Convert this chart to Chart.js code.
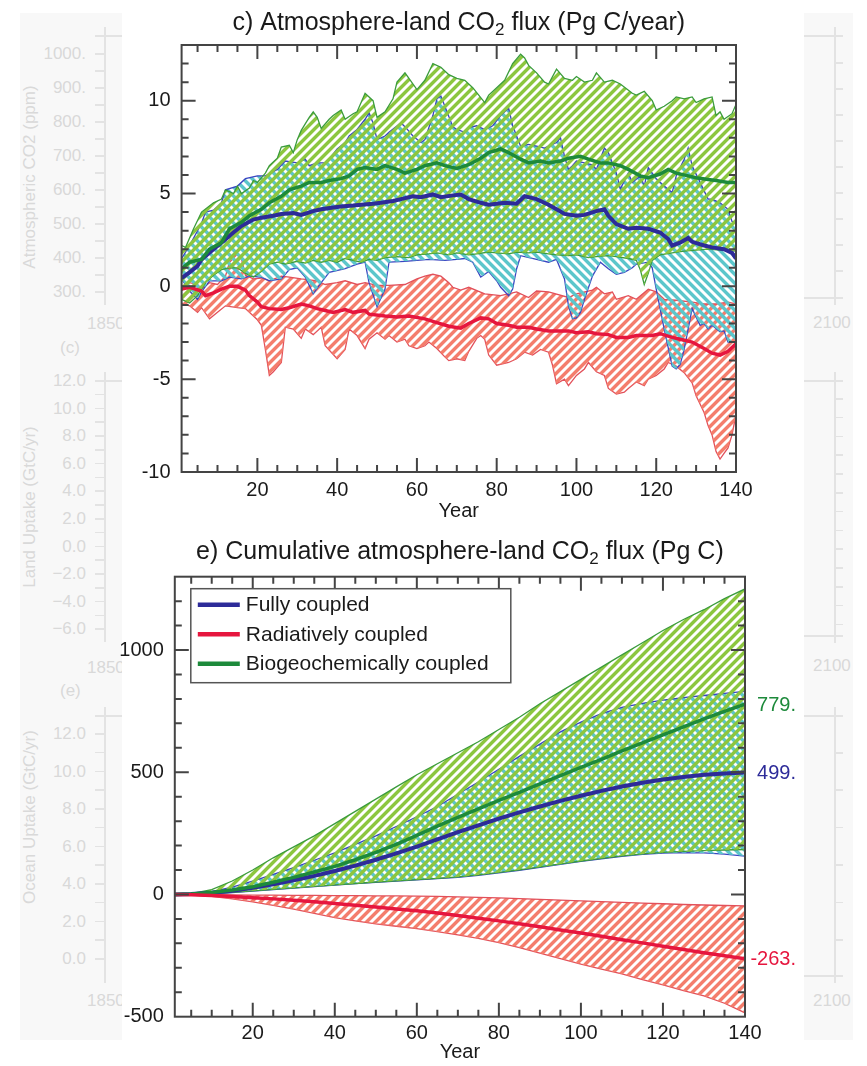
<!DOCTYPE html>
<html>
<head>
<meta charset="utf-8">
<script src="https://cdn.jsdelivr.net/npm/chart.js@4.4.1/dist/chart.umd.min.js"></script>
<style>
  html, body { margin: 0; padding: 0; background: #fff; }
  #page { position: relative; width: 867px; height: 1066px; overflow: hidden; font-family: "Liberation Sans", Arial, sans-serif; }
  .ghost { position: absolute; top: 13px; height: 1027px; background: #f8f8f8; }
  #sheet { position: absolute; left: 122px; top: 0; width: 682px; height: 1066px; background: #fff; }
  .g { position: absolute; color: #d9d9d9; font-size: 17px; line-height: 1; white-space: nowrap; }
  .gl { position: absolute; background: #e3e3e3; }
  canvas { position: absolute; left: 0; }
</style>
</head>
<body>
<div id="page">
  <div class="ghost" style="left:20px;width:102px"></div>
  <div class="ghost" style="left:804px;width:49px"></div>
  <div id="marks"></div>
  <div id="sheet"></div>
  <canvas id="flux" width="867" height="530" style="top:0"></canvas>
  <canvas id="cum" width="867" height="536" style="top:530px"></canvas>
</div>
<script>
// ---------- panel c: annual atmosphere-land flux (Pg C / yr) ----------
const yearTicks = [20, 40, 60, 80, 100, 120, 140];
const fluxTicks = [-10, -5, 0, 5, 10];
const cumTicks = [-500, 0, 500, 1000];

// biogeochemically coupled spread
const greenHiYr = [1,2,4,6,9,11,12,14,15,16,18,19,20,22,23,25,26,28,29,30,31,33,34,35,36,38,39,41,42,44,45,47,49,50,52,54,55,57,58,60,62,64,66,68,70,72,74,77,78,79,82,84,86,87,88,90,92,93,95,97,99,100,102,104,105,107,109,111,114,115,117,119,120,122,124,125,127,129,130,132,134,135,136,137,139,140];
const greenHi = [2.2,2.1,3.1,4.0,4.5,4.7,5.2,5.0,5.4,5.0,5.3,5.7,5.6,6.1,6.5,6.9,7.5,7.6,7.2,7.9,8.4,9.1,9.4,9.1,8.5,9.0,9.2,9.5,9.0,9.3,9.4,10.4,10.0,9.1,9.4,10.1,11.0,11.5,11.2,10.6,11.1,12.0,11.8,11.4,11.2,11.1,10.7,9.9,10.3,10.5,11.1,12.0,12.5,12.3,11.9,11.5,11.0,10.9,11.7,11.2,11.1,11.3,11.0,11.1,11.5,11.0,11.1,10.9,10.4,10.3,10.5,10.0,9.5,9.7,10.0,10.2,10.1,10.2,9.9,10.1,10.2,9.2,9.4,9.0,9.3,9.8];
const greenLoYr = [1,3,5,7,9,11,13,15,17,19,21,23,25,27,30,32,34,36,38,40,42,44,46,48,50,52,55,58,60,63,65,68,70,73,75,78,80,83,85,88,90,93,95,98,100,103,105,108,110,113,115,116,117,118,119,121,124,127,130,133,136,140];
const greenLo = [-0.7,-0.9,-0.5,0.2,0.6,0.9,1.0,1.0,0.7,0.5,0.8,1.2,1.3,1.2,1.35,1.25,1.4,1.3,1.4,1.3,1.5,1.4,1.3,1.45,1.4,1.55,1.6,1.55,1.7,1.75,1.8,1.7,1.8,1.7,1.75,1.85,1.8,1.75,1.85,1.8,1.85,1.75,1.7,1.65,1.7,1.55,1.6,1.65,1.6,1.5,1.4,0.9,0.1,0.7,1.4,1.7,1.8,1.9,1.95,2.0,1.95,1.9];
const greenMeanYr = [1,3,6,8,11,13,16,18,21,23,26,28,31,33,36,38,41,43,45,47,50,52,55,57,60,62,65,67,70,73,76,78,81,83,86,88,91,93,96,98,101,103,106,108,111,113,116,118,121,123,125,128,130,133,135,138,140];
const greenMean = [0.95,1.3,1.45,2.0,2.35,3.1,3.45,3.8,4.15,4.5,4.85,5.2,5.4,5.6,5.6,5.7,5.8,5.95,6.3,6.4,6.3,6.5,6.3,6.1,6.3,6.5,6.65,6.5,6.35,6.55,6.9,7.2,7.4,7.2,6.85,6.65,6.75,6.65,6.75,6.9,7.0,6.85,6.65,6.65,6.5,6.3,5.95,5.85,6.05,6.3,6.1,5.95,5.85,5.75,5.7,5.6,5.6];

// fully coupled spread
const blueHiYr = [1,3,6,7,9,11,12,15,17,20,22,25,27,30,32,33,35,37,38,40,42,43,45,47,48,49,50,52,53,56,57,59,61,62,64,65,66,67,69,70,72,73,75,77,79,81,83,84,86,88,90,92,93,95,96,97,98,99,100,102,104,105,107,108,110,111,113,114,116,117,118,119,120,122,124,125,127,128,129,131,133,134,136,138,139,140];
const blueHi = [1.5,2.2,3.4,4.0,4.1,4.5,5.2,5.4,5.8,5.95,5.95,6.3,6.75,6.65,6.85,6.5,6.65,6.65,6.85,7.4,7.75,8.1,8.45,9.0,9.35,8.8,7.9,8.1,8.3,8.8,8.6,8.1,7.75,7.9,9.2,10.1,10.25,9.7,8.6,8.45,8.3,8.55,8.65,8.45,8.65,9.2,9.6,8.65,7.55,7.65,7.55,7.45,7.55,7.75,8.0,7.0,6.3,6.5,6.75,6.65,6.55,6.3,7.45,7.2,6.1,5.25,6.1,5.6,5.95,5.4,6.4,6.1,5.8,5.4,5.05,5.95,6.85,7.45,6.5,5.6,4.7,4.7,4.5,4.15,3.5,3.45];
const blueLoYr = [1,3,5,6,8,11,13,16,18,21,23,26,28,30,32,34,36,38,42,45,47,48,50,52,53,57,60,63,67,70,72,74,76,78,80,81,83,84,85,86,90,93,95,97,98,99,100,101,102,104,106,108,110,112,114,115,118,119,120,122,124,125,126,127,128,129,131,132,133,134,136,137,138,140];
const blueLo = [0.4,-0.25,-0.7,-0.3,0.3,0.3,0.5,0.4,0.55,0.5,0.3,0.4,0.9,1.0,0.5,-0.4,0.2,0.75,0.95,1.2,1.3,0.2,-1.1,-0.15,1.3,1.35,1.4,1.45,1.4,1.45,1.5,1.3,0.5,0.8,0.3,-0.05,-0.5,-0.15,0.95,1.65,1.45,1.3,1.45,0.4,-1.05,-1.75,-1.7,-1.4,-0.7,0.55,1.3,0.95,0.65,0.75,1.0,1.2,1.3,1.0,-0.15,-2.3,-4.3,-4.45,-4.2,-3.4,-2.3,-1.2,-2.1,-2.0,-2.3,-2.1,-2.45,-2.4,-3.0,-3.0];
const blueMeanYr = [1,3,5,6,9,11,14,16,19,21,24,26,29,31,34,36,39,41,44,46,49,51,54,56,59,61,64,66,69,71,73,76,78,82,85,87,89,90,93,95,97,100,102,105,107,108,110,113,115,118,121,123,124,126,128,129,132,134,137,139,140];
const blueMean = [0.45,0.75,1.1,1.45,2.0,2.35,2.9,3.25,3.6,3.7,3.8,3.9,3.95,3.85,4.05,4.15,4.25,4.3,4.35,4.4,4.45,4.5,4.6,4.7,4.85,4.8,4.95,4.8,4.9,4.95,4.7,4.5,4.4,4.5,4.45,4.85,4.75,4.7,4.4,4.15,3.9,3.8,3.85,4.05,4.15,3.8,3.35,3.1,3.15,3.1,2.9,2.55,2.2,2.35,2.6,2.4,2.2,2.1,2.0,1.8,1.5];

// radiatively coupled spread
const redHiYr = [1,3,5,6,8,10,12,13,15,16,17,19,21,23,26,28,31,35,37,40,42,45,47,50,53,57,60,62,64,66,68,69,71,73,77,81,85,88,90,93,98,100,104,105,107,109,110,113,115,118,120,122,125,129,132,135,138,140];
const redHi = [0.0,0.2,0.1,-0.15,0.2,0.1,0.55,1.3,1.75,1.5,0.6,0.4,0.45,0.3,0.55,0.5,0.4,0.3,0.1,0.2,0.3,0.1,0.2,0.05,0.05,0.1,0.4,0.55,0.65,0.55,0.2,-0.05,-0.2,-0.05,-0.4,-0.5,-0.3,-0.6,-0.25,-0.3,-0.6,-0.4,-0.2,-0.05,-0.4,-0.3,-0.7,-0.5,-0.7,-0.15,-0.3,-0.7,-0.75,-0.85,-0.95,-0.95,-0.85,-0.95];
const redLoYr = [1,3,5,6,8,10,12,15,17,20,21,22,23,24,26,27,29,31,32,34,36,37,40,42,43,45,47,48,50,52,53,55,57,58,60,62,63,65,67,68,70,72,73,75,76,77,78,80,83,85,87,89,91,93,94,95,97,98,100,102,103,105,107,108,110,112,113,115,117,118,120,122,123,125,127,129,130,132,133,134,135,136,137,138,139,140];
const redLo = [-0.9,-1.05,-1.4,-1.15,-1.75,-1.4,-1.05,-1.15,-1.2,-1.8,-2.1,-3.4,-4.8,-4.6,-4.1,-2.2,-2.3,-2.8,-2.3,-2.6,-2.2,-3.2,-3.9,-3.4,-2.3,-2.65,-3.35,-2.85,-2.5,-2.85,-2.65,-3.0,-2.85,-3.2,-3.35,-3.2,-3.0,-3.35,-3.8,-4.0,-3.9,-4.0,-3.5,-2.8,-2.65,-2.85,-3.7,-4.25,-4.1,-3.9,-3.55,-3.7,-3.4,-3.55,-4.25,-5.25,-5.0,-5.35,-4.8,-4.45,-4.1,-4.6,-4.8,-5.5,-5.8,-5.7,-5.5,-5.15,-5.35,-5.0,-4.8,-4.45,-4.1,-4.3,-4.65,-5.2,-5.9,-6.8,-7.5,-8.0,-8.9,-9.3,-9.0,-8.7,-8.0,-6.9];
const redMeanYr = [1,3,6,7,9,11,13,15,17,18,20,21,23,26,28,31,33,35,37,39,42,44,47,48,52,55,58,62,65,68,71,73,76,78,80,83,85,88,90,93,98,100,103,105,108,110,113,115,119,121,124,126,129,132,134,136,138,140];
const redMean = [-0.15,-0.05,-0.25,-0.5,-0.35,-0.15,0.0,0.0,-0.2,-0.5,-0.85,-1.1,-1.2,-1.25,-1.15,-0.95,-1.05,-1.2,-1.3,-1.4,-1.25,-1.4,-1.3,-1.5,-1.6,-1.65,-1.6,-1.75,-1.95,-2.15,-2.25,-2.0,-1.7,-1.75,-2.0,-2.1,-2.2,-2.2,-2.3,-2.4,-2.4,-2.5,-2.45,-2.55,-2.6,-2.75,-2.75,-2.65,-2.65,-2.55,-2.75,-2.85,-3.0,-3.35,-3.6,-3.7,-3.5,-3.1];

// ---------- panel e: cumulative flux (Pg C) ----------
const cumYears = [1,5,10,15,20,25,30,35,40,45,50,55,60,65,70,75,80,85,90,95,100,105,110,115,120,125,130,135,140];
const cumGreenHi = [0,3,20,55,100,150,195,240,290,340,390,440,490,535,580,625,675,725,780,830,880,930,980,1030,1080,1125,1165,1210,1250];
const cumGreenLo = [0,1,4,9,15,21,27,33,39,45,51,56,61,66,72,80,90,101,113,125,137,148,158,166,172,176,179,182,184];
const cumGreen = [0,2,8,18,32,50,70,92,115,142,172,205,242,280,315,350,385,418,452,486,520,553,587,620,653,686,718,749,779];
const cumBlueHi = [0,2,12,30,55,82,110,140,170,205,240,278,318,360,410,460,512,565,615,665,705,740,765,782,795,805,814,823,831];
const cumBlueLo = [0,1,3,8,14,20,26,32,38,44,50,55,60,65,70,78,88,99,111,123,135,146,156,164,169,171,170,165,157];
const cumBlue = [0,2,7,15,27,42,58,76,96,118,142,168,196,225,255,283,310,336,360,383,404,424,442,457,470,481,490,495,499];
const cumRedHi = [0,0,-1,-2,-3,-3,-4,-4,-5,-5,-6,-6,-7,-8,-10,-12,-14,-17,-20,-23,-26,-29,-32,-35,-38,-41,-43,-45,-47];
const cumRedLo = [0,-3,-8,-18,-30,-45,-60,-77,-95,-108,-120,-130,-140,-152,-165,-180,-197,-217,-240,-262,-285,-305,-325,-348,-370,-393,-415,-445,-484];
const cumRed = [0,-1,-4,-8,-13,-18,-24,-30,-37,-44,-51,-59,-67,-76,-86,-97,-108,-120,-132,-145,-158,-171,-185,-198,-212,-225,-238,-251,-263];

const seriesNames = ['Fully coupled', 'Radiatively coupled', 'Biogeochemically coupled'];
const fluxTitle = ['c) Atmosphere-land CO', '2', ' flux (Pg C/year)'];
const cumTitle = ['e) Cumulative atmosphere-land CO', '2', ' flux (Pg C)'];

const C = {
  blue: '#2d2b99', blueEdge: '#3a45c2', cyan: '#5cc6cb',
  green: '#1d8a3b', greenEdge: '#3b9c3d', lime: '#8cc63f',
  red: '#e6163e', redEdge: '#e2505a', salmon: '#f47d6c',
  ink: '#1a1a1a', frame: '#444'
};
const FONT = '"Liberation Sans", Arial, sans-serif';
Chart.defaults.font.family = FONT;

// diagonal hatch tile built pixel by pixel (no seams): +1 rises to the right, -1 falls
function hatch(ctx, hex, dir) {
  const n = 9, w = 4;
  const c = document.createElement('canvas');
  c.width = c.height = n;
  const g = c.getContext('2d');
  const img = g.createImageData(n, n);
  const rgb = [1, 3, 5].map(i => parseInt(hex.slice(i, i + 2), 16));
  for (let y = 0; y < n; y++) {
    for (let x = 0; x < n; x++) {
      const k = dir > 0 ? (x + y) % n : (x - y + n) % n;
      const alpha = k < w ? 255 : (k === w || k === n - 1) ? 110 : 0;
      const i = (y * n + x) * 4;
      img.data[i] = rgb[0]; img.data[i + 1] = rgb[1]; img.data[i + 2] = rgb[2];
      img.data[i + 3] = alpha;
    }
  }
  g.putImageData(img, 0, 0);
  return ctx.createPattern(c, 'repeat');
}

const pts = (xs, ys) => xs.map((x, i) => ({ x, y: ys[i] }));

function band(xHi, hi, xLo, lo, edge, fill) {
  return [
    { data: pts(xHi, hi), borderColor: edge, borderWidth: 1.3, order: 2,
      fill: { target: '+1', above: fill, below: fill } },
    { data: pts(xLo, lo), borderColor: edge, borderWidth: 1.3, order: 2, fill: false }
  ];
}
const meanLine = (xs, ys, color, w) =>
  ({ data: pts(xs, ys), borderColor: color, borderWidth: w, order: 0, fill: false });

// IDL-style frame: box, inward ticks on all four sides, title with subscript,
// optional legend box and end-of-line values
const decor = {
  id: 'decor',
  afterDatasetsDraw(chart, args, o) {
    const { ctx, chartArea: a, scales: { x, y } } = chart;
    ctx.save();
    ctx.strokeStyle = C.frame;
    ctx.lineWidth = 2;
    ctx.beginPath();
    for (let v = o.xMinor; v < x.max; v += o.xMinor) {
      const px = x.getPixelForValue(v);
      const len = v % o.xMajor === 0 ? 14 : 7;
      ctx.moveTo(px, a.bottom); ctx.lineTo(px, a.bottom - len);
      ctx.moveTo(px, a.top); ctx.lineTo(px, a.top + len);
    }
    for (let v = y.min + o.yMinor; v < y.max; v += o.yMinor) {
      const py = y.getPixelForValue(v);
      const len = v % o.yMajor === 0 ? 14 : 7;
      ctx.moveTo(a.left, py); ctx.lineTo(a.left + len, py);
      ctx.moveTo(a.right, py); ctx.lineTo(a.right - len, py);
    }
    ctx.stroke();
    ctx.strokeRect(a.left, a.top, a.right - a.left, a.bottom - a.top);

    // title, centred on the plot box
    const [t0, t1, t2] = o.title;
    const big = '25px ' + FONT, small = '17px ' + FONT;
    ctx.font = big; const w0 = ctx.measureText(t0).width, w2 = ctx.measureText(t2).width;
    ctx.font = small; const w1 = ctx.measureText(t1).width;
    let tx = (a.left + a.right) / 2 - (w0 + w1 + w2) / 2;
    ctx.fillStyle = C.ink;
    ctx.textBaseline = 'alphabetic';
    ctx.textAlign = 'left';
    ctx.font = big; ctx.fillText(t0, tx, o.titleY); tx += w0;
    ctx.font = small; ctx.fillText(t1, tx, o.titleY + 5); tx += w1;
    ctx.font = big; ctx.fillText(t2, tx, o.titleY);

    if (o.legend) {
      const lx = a.left + 16, ly = a.top + 12;
      ctx.fillStyle = '#fff';
      ctx.fillRect(lx, ly, 320, 94);
      ctx.strokeStyle = '#555';
      ctx.lineWidth = 1.5;
      ctx.strokeRect(lx, ly, 320, 94);
      const cols = [C.blue, C.red, C.green];
      ctx.font = '21px ' + FONT;
      ctx.textBaseline = 'middle';
      seriesNames.forEach((name, i) => {
        const ry = ly + 16 + i * 29.5;
        ctx.strokeStyle = cols[i];
        ctx.lineWidth = 4.5;
        ctx.beginPath(); ctx.moveTo(lx + 7, ry); ctx.lineTo(lx + 49, ry); ctx.stroke();
        ctx.fillStyle = C.ink;
        ctx.fillText(name, lx + 55, ry + 1);
      });
    }

    if (o.endValues) {
      ctx.font = '20px ' + FONT;
      ctx.textAlign = 'right';
      ctx.textBaseline = 'middle';
      o.endValues.forEach(([vals, col]) => {
        const v = vals[vals.length - 1];
        ctx.fillStyle = col;
        ctx.fillText(v + '.', a.right + 51, y.getPixelForValue(v) + 1);
      });
    }
    ctx.restore();
  }
};

function axes(yMin, yMax, yTicks, xHeight, xPad, titlePad) {
  const tickFont = { size: 20, family: FONT };
  return {
    x: {
      type: 'linear', min: 1, max: 140,
      afterBuildTicks: s => { s.ticks = yearTicks.map(v => ({ value: v })); },
      afterFit: s => { s.height = xHeight; },
      grid: { display: false, drawTicks: false }, border: { display: false },
      ticks: { font: tickFont, color: C.ink, padding: xPad, maxRotation: 0, autoSkip: false, callback: v => String(v) },
      title: { display: true, text: 'Year', font: tickFont, color: C.ink, padding: { top: 0, bottom: titlePad } }
    },
    y: {
      min: yMin, max: yMax,
      afterBuildTicks: s => { s.ticks = yTicks.map(v => ({ value: v })); },
      afterFit: s => { s.width = 60; },
      grid: { display: false, drawTicks: false }, border: { display: false },
      ticks: { font: tickFont, color: C.ink, padding: 11, autoSkip: false, callback: v => String(v) }
    }
  };
}

const base = {
  responsive: false, animation: false, devicePixelRatio: 1,
  elements: { point: { radius: 0 }, line: { tension: 0 } },
  events: []
};

// panel c — green band listed first so its hatch lands on top of the cyan one
const fluxCtx = document.getElementById('flux').getContext('2d');
new Chart(fluxCtx, {
  type: 'line',
  data: {
    datasets: [
      ...band(greenHiYr, greenHi, greenLoYr, greenLo, C.greenEdge, hatch(fluxCtx, C.lime, 1)),
      ...band(blueHiYr, blueHi, blueLoYr, blueLo, C.blueEdge, hatch(fluxCtx, C.cyan, -1)),
      ...band(redHiYr, redHi, redLoYr, redLo, C.redEdge, hatch(fluxCtx, C.salmon, 1)),
      meanLine(redMeanYr, redMean, C.red, 3.5),
      meanLine(greenMeanYr, greenMean, C.green, 3.5),
      meanLine(blueMeanYr, blueMean, C.blue, 4)
    ]
  },
  options: {
    ...base,
    layout: { padding: { left: 121.6, right: 131, top: 45, bottom: 0 } },
    scales: axes(-10, 13, fluxTicks, 58, 6, 7),
    plugins: {
      legend: { display: false }, tooltip: { enabled: false },
      decor: { title: fluxTitle, titleY: 30, xMinor: 5, xMajor: 20, yMinor: 1, yMajor: 5 }
    }
  },
  plugins: [decor]
});

// panel e
const cumCtx = document.getElementById('cum').getContext('2d');
new Chart(cumCtx, {
  type: 'line',
  data: {
    datasets: [
      ...band(cumYears, cumGreenHi, cumYears, cumGreenLo, C.greenEdge, hatch(cumCtx, C.lime, 1)),
      ...band(cumYears, cumBlueHi, cumYears, cumBlueLo, C.blueEdge, hatch(cumCtx, C.cyan, -1)),
      ...band(cumYears, cumRedHi, cumYears, cumRedLo, C.redEdge, hatch(cumCtx, C.salmon, 1)),
      meanLine(cumYears, cumRed, C.red, 3.5),
      meanLine(cumYears, cumGreen, C.green, 3.5),
      meanLine(cumYears, cumBlue, C.blue, 4)
    ]
  },
  options: {
    ...base,
    layout: { padding: { left: 114.8, right: 122, top: 46.7, bottom: 0 } },
    scales: axes(-500, 1300, cumTicks, 49.3, 5, 2),
    plugins: {
      legend: { display: false }, tooltip: { enabled: false },
      decor: {
        title: cumTitle, titleY: 29, xMinor: 5, xMajor: 20, yMinor: 100, yMajor: 500,
        legend: true,
        endValues: [[cumGreen, C.green], [cumBlue, C.blue], [cumRed, C.red]]
      }
    }
  },
  plugins: [decor]
});

// faded neighbouring panels at the page edges
const marks = document.getElementById('marks');
function gtext(t, x, y, ax, rot) {
  const d = document.createElement('div');
  d.className = 'g';
  d.textContent = t;
  d.style.left = x + 'px';
  d.style.top = y + 'px';
  d.style.transform = `translate(${ax}, -50%)` + (rot ? ' rotate(-90deg)' : '');
  marks.appendChild(d);
}
function gline(x, y, w, h) {
  const d = document.createElement('div');
  d.className = 'gl';
  Object.assign(d.style, { left: x + 'px', top: y + 'px', width: w + 'px', height: h + 'px' });
  marks.appendChild(d);
}
const leftPanels = [
  { labels: ['1000.', '900.', '800.', '700.', '600.', '500.', '400.', '300.'], y0: 53, dy: 34, top: 27, bottom: 305, name: 'Atmospheric CO2 (ppm)', nameY: 177, yearY: 323 },
  { labels: ['12.0', '10.0', '8.0', '6.0', '4.0', '2.0', '0.0', '\u22122.0', '\u22124.0', '\u22126.0'], y0: 380, dy: 27.6, top: 372, bottom: 642, name: 'Land Uptake (GtC/yr)', nameY: 507, yearY: 667, tag: '(c)', tagY: 347 },
  { labels: ['12.0', '10.0', '8.0', '6.0', '4.0', '2.0', '0.0'], y0: 733, dy: 37.5, top: 707, bottom: 983, name: 'Ocean Uptake (GtC/yr)', nameY: 817, yearY: 1000, tag: '(e)', tagY: 690 }
];
leftPanels.forEach(p => {
  gline(104, p.top, 1.5, p.bottom - p.top);
  gline(95, p.top + 8, 27, 1.5);
  p.labels.forEach((l, i) => {
    const y = p.y0 + i * p.dy;
    gtext(l, 86, y, '-100%');
    gline(95, y, 9, 1.5);
    if (i < p.labels.length - 1) gline(95, y + p.dy / 2, 9, 1.5);
  });
  gtext(p.name, 29, p.nameY, '-50%', true);
  gtext('1850', 87, p.yearY, '0');
  if (p.tag) gtext(p.tag, 60, p.tagY, '0');
});
const rightPanels = [
  { top: 27, bottom: 305, t0: 62, dt: 26, yearY: 322 },
  { top: 372, bottom: 643, t0: 398, dt: 18.8, yearY: 665 },
  { top: 707, bottom: 983, t0: 752, dt: 37.4, yearY: 1000 }
];
rightPanels.forEach(p => {
  gline(834, p.top, 1.5, p.bottom - p.top);
  gline(804, p.top + 8, 39, 1.5);
  gline(804, p.bottom - 8, 39, 1.5);
  for (let y = p.t0; y < p.bottom - 10; y += p.dt) gline(834, y, 9, 1.5);
  gtext('2100', 813, p.yearY, '0');
});
</script>
</body>
</html>
